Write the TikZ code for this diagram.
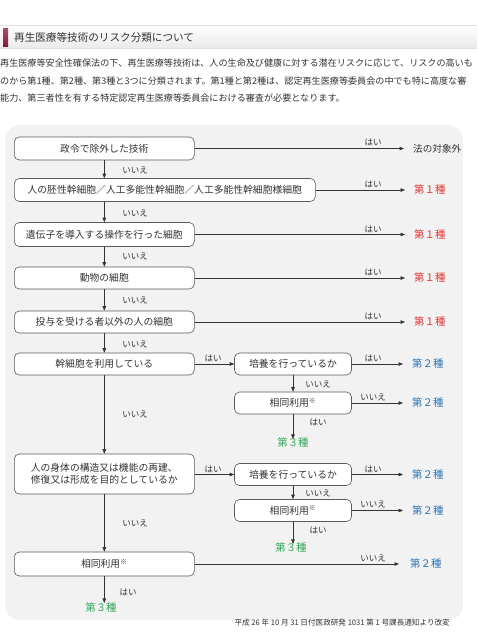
\documentclass[tikz,border=0pt]{standalone}
\usepackage{fontspec}
\setmainfont{Noto Sans CJK JP}
\usetikzlibrary{arrows.meta, positioning}
\definecolor{RkRed}{RGB}{235,50,50}
\definecolor{RkBlue}{RGB}{46,117,182}
\definecolor{RkGreen}{RGB}{50,168,90}
\definecolor{RkText}{RGB}{51,51,51}
\definecolor{RkPanel}{RGB}{242,242,242}
\definecolor{RkMark}{RGB}{135,25,55}

\begin{document}
\begin{tikzpicture}[x=1pt, y=-1pt,
          bx/.style={rectangle, rounded corners=5pt, draw=black!65, fill=white,
                     line width=0.6pt, minimum width=180pt, minimum height=23pt,
                     align=center, font=\fontsize{9.8}{12}\selectfont,
                     text=RkText, anchor=west},
          sbx/.style={bx, minimum width=117pt, minimum height=22pt, anchor=center},
          arr/.style={-{Triangle[length=4.5pt, width=3.5pt]}, draw=black!80,
                      line width=0.6pt},
          lbl/.style={font=\fontsize{8.5}{10}\selectfont, text=RkText, inner sep=0pt},
          res/.style={font=\fontsize{10.4}{12}\selectfont, inner sep=0pt, anchor=west},
          gr/.style={font=\fontsize{10.4}{12}\selectfont, inner sep=0pt, text=RkGreen},
          para/.style={font=\fontsize{9.1}{11}\selectfont, text=RkText, anchor=west,
                       inner sep=0pt}
        ]
        \useasboundingbox (0,0) rectangle (477,640);
        \clip (0,0) rectangle (477,640);
        \fill[white] (0,0) rectangle (477,640);

        % HEADER
        \shade[top color=white, bottom color=black!8] (0,25) rectangle (477,48);
        \draw[black!12] (0,25) -- (477,25) (0,48) -- (477,48);
        \shade[top color=RkMark!75, bottom color=RkMark] (3,28) rectangle (8,46);
        \node[font=\fontsize{10.6}{12}\selectfont, text=RkText, anchor=west,
              inner sep=0pt] (ttl) at (14,37) {再生医療等技術のリスク分類について};
        \node[para] (p1) at (0,63)
              {再生医療等安全性確保法の下、再生医療等技術は、人の生命及び健康に対する潜在リスクに応じて、リスクの高いも};
        \node[para] (p2) at (0,81)
              {のから第1種、第2種、第3種と3つに分類されます。第1種と第2種は、認定再生医療等委員会の中でも特に高度な審};
        \node[para] (p3) at (0,98)
              {能力、第三者性を有する特定認定再生医療等委員会における審査が必要となります。};

        % PANEL
        \fill[RkPanel, rounded corners=15pt] (5,125) rectangle (463,620);

        % MAIN COLUMN
        \node[bx] (b1) at (14,148.5) {政令で除外した技術};
        \node[bx, minimum width=301pt] (b2) at (14,190) {人の胚性幹細胞／人工多能性幹細胞／人工多能性幹細胞様細胞};
        \node[bx, minimum height=24pt] (b3) at (14,234.5) {遺伝子を導入する操作を行った細胞};
        \node[bx, minimum height=22pt] (b4) at (14,278) {動物の細胞};
        \node[bx, minimum height=22pt] (b5) at (14,322) {投与を受ける者以外の人の細胞};
        \node[bx, minimum height=22pt] (b6) at (14,364) {幹細胞を利用している};
        \node[bx, minimum height=40pt] (b7) at (14,474)
              {人の身体の構造又は機能の再建、\\修復又は形成を目的としているか};
        \node[bx, minimum height=24pt] (b8) at (14,564) {相同利用\textsuperscript{※}};

        % SUB BOXES
        \node[sbx] (s1) at (293,364) {培養を行っているか};
        \node[sbx] (s2) at (293,403) {相同利用\textsuperscript{※}};
        \node[sbx] (s3) at (293,474.5) {培養を行っているか};
        \node[sbx] (s4) at (293,510.5) {相同利用\textsuperscript{※}};

        % RESULTS
        \node[res, text=RkText, font=\fontsize{9.6}{11}\selectfont] (r1) at (413,148.5) {法の対象外};
        \node[res, text=RkRed] (r2) at (414,190) {第１種};
        \node[res, text=RkRed] (r3) at (414,234.5) {第１種};
        \node[res, text=RkRed] (r4) at (414,278) {第１種};
        \node[res, text=RkRed] (r5) at (414,322) {第１種};
        \node[res, text=RkBlue] (r6) at (412,364) {第２種};
        \node[res, text=RkBlue] (r7) at (412,403) {第２種};
        \node[res, text=RkBlue] (r8) at (412,474.5) {第２種};
        \node[res, text=RkBlue] (r9) at (412,510.5) {第２種};
        \node[res, text=RkBlue] (r10) at (410,564) {第２種};
        \node[gr] (g1) at (293,443) {第３種};
        \node[gr] (g2) at (291,548) {第３種};
        \node[gr] (g3) at (101,608) {第３種};

        % DOWN ARROWS
        \draw[arr] (b1.south) -- (b1.south |- b2.north);
        \draw[arr] (b1.south |- b2.south) -- (b1.south |- b3.north);
        \draw[arr] (b3.south) -- (b4.north);
        \draw[arr] (b4.south) -- (b5.north);
        \draw[arr] (b5.south) -- (b6.north);
        \draw[arr] (b6.south) -- (b7.north);
        \draw[arr] (b7.south) -- (b8.north);
        \draw[arr] (b8.south) -- (b8.south |- g3.north);
        \draw[arr] (s1.south) -- (s2.north);
        \draw[arr] (s2.south) -- ([yshift=-1pt]g1.north);
        \draw[arr] (s3.south) -- (s4.north);
        \draw[arr] (s4.south) -- ([yshift=-1pt]s4.south |- g2.north);

        % RIGHT ARROWS
        \draw[arr, shorten >=9pt] (b1.east) -- (r1.west);
        \draw[arr, shorten >=9pt] (b2.east) -- (r2.west);
        \draw[arr, shorten >=9pt] (b3.east) -- (r3.west);
        \draw[arr, shorten >=9pt] (b4.east) -- (r4.west);
        \draw[arr, shorten >=9pt] (b5.east) -- (r5.west);
        \draw[arr] (b6.east) -- (s1.west);
        \draw[arr] (b7.east |- s3.west) -- (s3.west);
        \draw[arr, shorten >=9pt] (s1.east) -- (r6.west);
        \draw[arr, shorten >=9pt] (s2.east) -- (r7.west);
        \draw[arr, shorten >=9pt] (s3.east) -- (r8.west);
        \draw[arr, shorten >=9pt] (s4.east) -- (r9.west);
        \draw[arr, shorten >=11pt] (b8.east) -- (r10.west);

        % LABELS
        \foreach \yy in {170,213,256,300,344,414,523}
          \node[lbl] at (135,\yy) {いいえ};
        \foreach \yy in {142,184,229,272,316,358,469}
          \node[lbl] at (373,\yy) {はい};
        \foreach \yy in {397,504,558}
          \node[lbl] at (373,\yy) {いいえ};
        \node[lbl] at (213,358) {はい};
        \node[lbl] at (213,469) {はい};
        \node[lbl] at (318,384) {いいえ};
        \node[lbl] at (318,493) {いいえ};
        \node[lbl] at (318,422) {はい};
        \node[lbl] at (318,530) {はい};
        \node[lbl] at (128,592) {はい};

        % FOOTER
        \node[font=\fontsize{7.6}{9}\selectfont, text=RkText, anchor=east,
              inner sep=0pt] (src) at (450,623)
              {平成 26 年 10 月 31 日付医政研発 1031 第 1 号課長通知より改変};
      \end{tikzpicture}
\end{document}
